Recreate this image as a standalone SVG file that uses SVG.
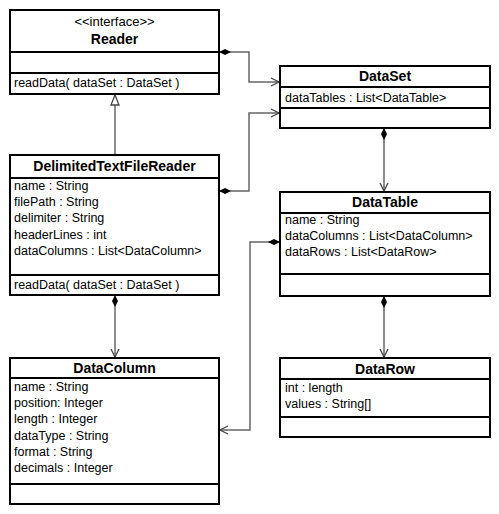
<svg xmlns="http://www.w3.org/2000/svg" width="499" height="514" viewBox="0 0 499 514">
<style>
.box{fill:#fff;stroke:#000;stroke-width:2}
.div{stroke:#000;stroke-width:2}
.t{font-family:"Liberation Sans",Arial,sans-serif;font-size:12.5px;fill:#000}
.h{font-family:"Liberation Sans",Arial,sans-serif;font-size:14px;font-weight:bold;fill:#000;text-anchor:middle}
.st{font-family:"Liberation Sans",Arial,sans-serif;font-size:13px;fill:#000;text-anchor:middle}
.c{fill:none;stroke:#666;stroke-width:1.5}
</style>
<defs>
<marker id="dia" viewBox="0 0 12 8" refX="0" refY="4" markerWidth="12" markerHeight="8" markerUnits="userSpaceOnUse" orient="auto"><path d="M0,4 L6,1 L12,4 L6,7 Z" fill="#000"/></marker>
<marker id="arr" viewBox="0 0 10 10" refX="9" refY="5" markerWidth="10" markerHeight="10" markerUnits="userSpaceOnUse" orient="auto"><path d="M1,1 L9,5 L1,9" fill="none" stroke="#444" stroke-width="1.3"/></marker>
<marker id="tri" viewBox="0 0 12 10" refX="11" refY="5" markerWidth="12" markerHeight="10" markerUnits="userSpaceOnUse" orient="auto"><path d="M1,1 L11,5 L1,9 Z" fill="#fff" stroke="#444" stroke-width="1.3"/></marker>
</defs>
<g id="connectors">
<path class="c" d="M219,52 H249 V82 H279" marker-start="url(#dia)" marker-end="url(#arr)"/>
<path class="c" d="M219,191 H249 V113 H279" marker-start="url(#dia)" marker-end="url(#arr)"/>
<path class="c" d="M384,128 V191" marker-start="url(#dia)" marker-end="url(#arr)"/>
<path class="c" d="M280,242 H250 V430 H220" marker-start="url(#dia)" marker-end="url(#arr)"/>
<path class="c" d="M384,296 V357" marker-start="url(#dia)" marker-end="url(#arr)"/>
<path class="c" d="M115,295 V357" marker-start="url(#dia)" marker-end="url(#arr)"/>
<path class="c" d="M115,155 V95" marker-end="url(#tri)"/>
</g>
<g id="Reader">
<rect class="box" x="10" y="10" width="209" height="84"/>
<line class="div" x1="10" y1="52" x2="219" y2="52"/>
<line class="div" x1="10" y1="73" x2="219" y2="73"/>
<text class="st" x="114.5" y="26">&lt;&lt;interface&gt;&gt;</text>
<text class="h" x="114.5" y="44">Reader</text>
<text class="t" x="14" y="87">readData( dataSet : DataSet )</text>
</g>
<g id="DataSet">
<rect class="box" x="280" y="66" width="210" height="62"/>
<line class="div" x1="280" y1="87" x2="490" y2="87"/>
<line class="div" x1="280" y1="108" x2="490" y2="108"/>
<text class="h" x="385" y="81">DataSet</text>
<text class="t" x="285" y="102">dataTables : List&lt;DataTable&gt;</text>
</g>
<g id="DelimitedTextFileReader">
<rect class="box" x="10" y="155" width="209" height="140"/>
<line class="div" x1="10" y1="178" x2="219" y2="178"/>
<line class="div" x1="10" y1="275" x2="219" y2="275"/>
<text class="h" x="114.5" y="171">DelimitedTextFileReader</text>
<text class="t" x="14" y="190">name : String</text>
<text class="t" x="14" y="206">filePath : String</text>
<text class="t" x="14" y="222">delimiter : String</text>
<text class="t" x="14" y="239">headerLines : int</text>
<text class="t" x="14" y="255">dataColumns : List&lt;DataColumn&gt;</text>
<text class="t" x="14" y="289">readData( dataSet : DataSet )</text>
</g>
<g id="DataTable">
<rect class="box" x="280" y="192" width="210" height="104"/>
<line class="div" x1="280" y1="213" x2="490" y2="213"/>
<line class="div" x1="280" y1="274" x2="490" y2="274"/>
<text class="h" x="385" y="207">DataTable</text>
<text class="t" x="285" y="224">name : String</text>
<text class="t" x="285" y="240">dataColumns : List&lt;DataColumn&gt;</text>
<text class="t" x="285" y="256">dataRows : List&lt;DataRow&gt;</text>
</g>
<g id="DataColumn">
<rect class="box" x="10" y="358" width="209" height="146"/>
<line class="div" x1="10" y1="378" x2="219" y2="378"/>
<line class="div" x1="10" y1="484" x2="219" y2="484"/>
<text class="h" x="114.5" y="373">DataColumn</text>
<text class="t" x="14" y="391">name : String</text>
<text class="t" x="14" y="407">position: Integer</text>
<text class="t" x="14" y="423">length : Integer</text>
<text class="t" x="14" y="440">dataType : String</text>
<text class="t" x="14" y="456">format : String</text>
<text class="t" x="14" y="472">decimals : Integer</text>
</g>
<g id="DataRow">
<rect class="box" x="280" y="358" width="210" height="79"/>
<line class="div" x1="280" y1="379" x2="490" y2="379"/>
<line class="div" x1="280" y1="417" x2="490" y2="417"/>
<text class="h" x="385" y="374">DataRow</text>
<text class="t" x="285" y="392">int : length</text>
<text class="t" x="285" y="408">values : String[]</text>
</g>
</svg>
